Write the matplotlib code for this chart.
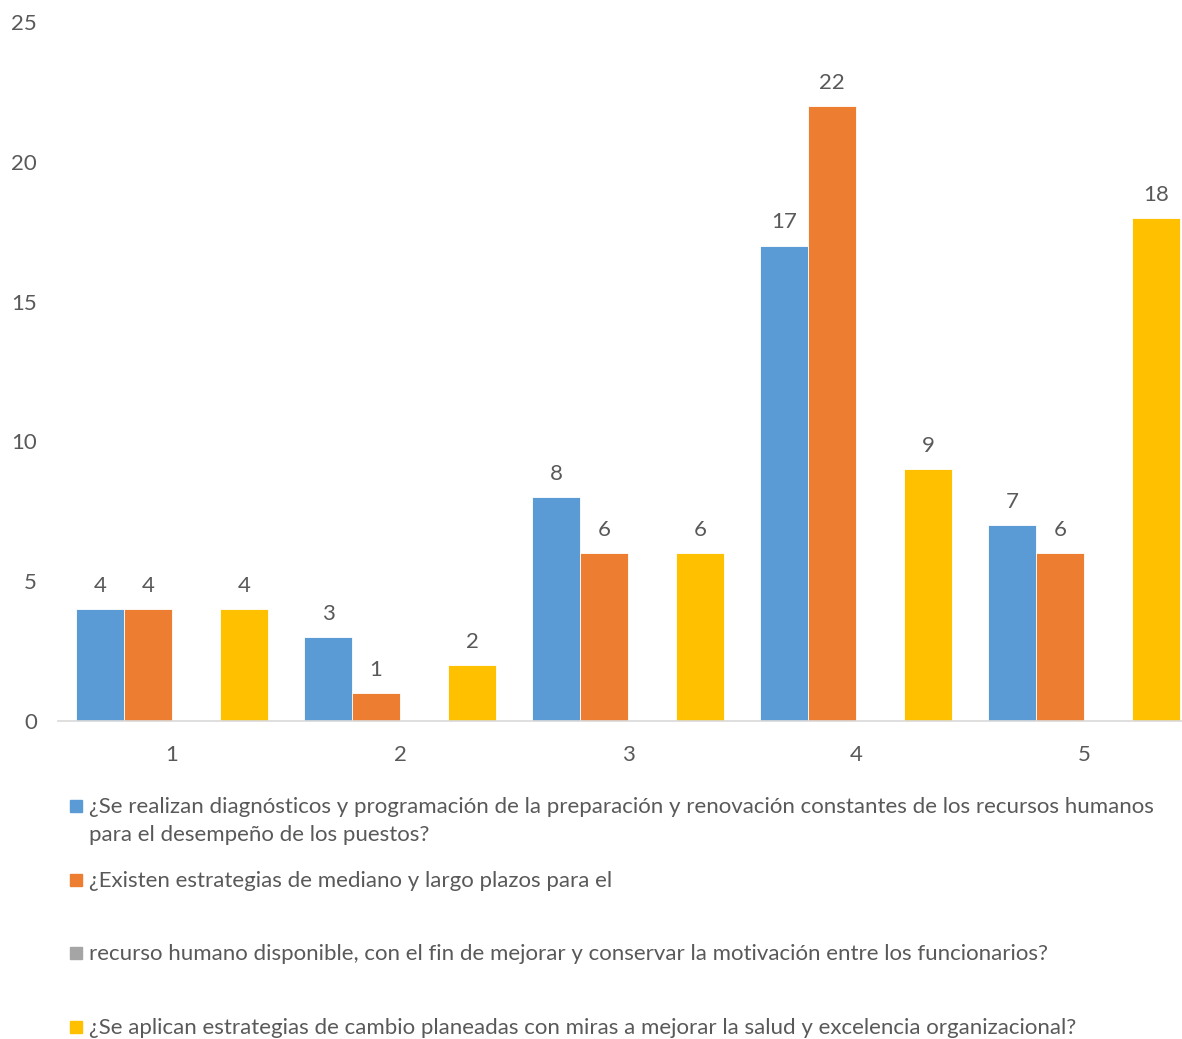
import matplotlib.pyplot as plt
import numpy as np
from matplotlib import patches

categories = ['1', '2', '3', '4', '5']
blue_vals = [4, 3, 8, 17, 7]
orange_vals = [4, 1, 6, 22, 6]
gray_vals = [np.nan, np.nan, np.nan, np.nan, np.nan]
yellow_vals = [4, 2, 6, 9, 18]

labels = [
    '¿Se realizan diagnósticos y programación de la preparación y renovación constantes de los recursos humanos\npara el desempeño de los puestos?',
    '¿Existen estrategias de mediano y largo plazos para el',
    'recurso humano disponible, con el fin de mejorar y conservar la motivación entre los funcionarios?',
    '¿Se aplican estrategias de cambio planeadas con miras a mejorar la salud y excelencia organizacional?',
]
colors = ['#5b9bd5', '#ed7d31', '#a5a5a5', '#ffc000']
TXT = '#595959'
FS = 16

plt.rcParams['font.family'] = ['Lato', 'DejaVu Sans']

W, H = 1182, 1039
fig = plt.figure(figsize=(W / 100, H / 100), dpi=100)
ax = fig.add_axes([58 / W, (H - 721) / H, 1140 / W, 699 / H])

x = np.arange(len(categories))
w = 48 / 228
series = [blue_vals, orange_vals, gray_vals, yellow_vals]
for i, (vals, c) in enumerate(zip(series, colors)):
    pos = x + (i - 1.5) * w
    ax.bar(pos, vals, width=w, color=c, edgecolor='white', linewidth=0.6)
    for px, v in zip(pos, vals):
        if not np.isnan(v):
            ax.annotate(str(v), (px, v), xytext=(0, 9.5), textcoords='offset points',
                        ha='center', va='bottom', fontsize=FS, color=TXT)

ax.set_xlim(-0.5, len(categories) - 0.5)
ax.set_ylim(0, 25)
ax.set_yticks(range(0, 26, 5))
ax.set_xticks(x)
ax.set_xticklabels(categories)
for s in ['top', 'right', 'left']:
    ax.spines[s].set_visible(False)
ax.spines['bottom'].set_color('#d9d9d9')
ax.spines['bottom'].set_linewidth(1.2)
ax.tick_params(axis='both', length=0, labelsize=FS, labelcolor=TXT)
ax.tick_params(axis='y', pad=15)
ax.tick_params(axis='x', pad=17)

# legend drawn by hand to keep Excel's wrapped layout
legend_y = [806, 880, 953, 1027]
for ly, lab, c in zip(legend_y, labels, colors):
    fig.patches.append(patches.Rectangle((70 / W, (H - ly - 6) / H), 12 / W, 12 / H,
                                         transform=fig.transFigure, color=c))
    fig.text(89 / W, (H - ly + 9) / H, lab, ha='left', va='top', fontsize=FS,
             color=TXT, linespacing=1.5)

fig.savefig('out.png', dpi=100)
